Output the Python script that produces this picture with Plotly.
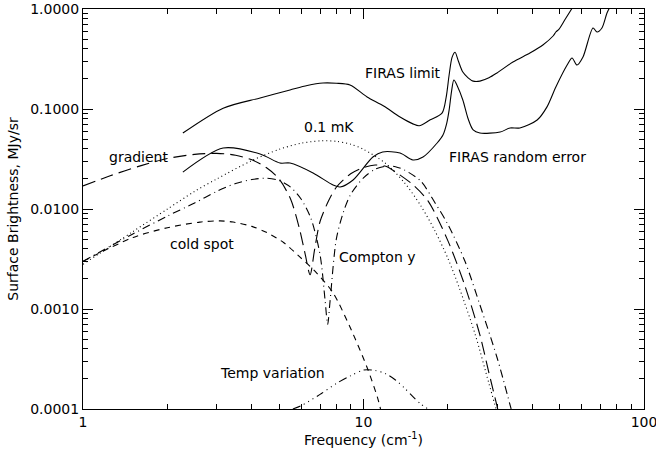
import plotly.graph_objects as go
import math

# ---------------- data (frequency in cm^-1, brightness in MJy/sr) ----------------
firas_limit_nu = [2.27, 3.16, 4.28, 5.47, 6.3, 7.17, 8.0, 8.95, 10.3, 11.8, 13.5, 15.0, 15.8, 17.3, 19.05, 19.7, 20.2, 20.7, 21.2, 21.8, 22.6, 23.6, 24.6, 26.0, 28.0, 29.9, 34.1, 39.2, 43.6, 47.5, 48.5, 49.8, 52.5, 55.8]
firas_limit_val = [0.0575, 0.102, 0.129, 0.155, 0.172, 0.182, 0.181, 0.174, 0.132, 0.107, 0.083, 0.071, 0.068, 0.078, 0.091, 0.13, 0.22, 0.33, 0.37, 0.30, 0.234, 0.205, 0.19, 0.19, 0.205, 0.229, 0.295, 0.363, 0.437, 0.54, 0.589, 0.63, 0.80, 1.05]

firas_err_nu = [2.27, 3.16, 4.28, 5.04, 5.47, 6.61, 7.79, 8.25, 9.18, 10.8, 11.7, 13.5, 15.0, 16.3, 18.3, 19.2, 19.8, 20.2, 20.6, 21.0, 21.6, 22.6, 23.6, 24.6, 26.0, 30.7, 33.3, 36.1, 41.6, 45.1, 48.5, 53.2, 55.4, 57.7, 60.6, 65.8, 68.0, 70.8, 73.8, 76.3]
firas_err_val = [0.0234, 0.0407, 0.0355, 0.0288, 0.0288, 0.0229, 0.0174, 0.0166, 0.0195, 0.0331, 0.0372, 0.0363, 0.0309, 0.0331, 0.0457, 0.055, 0.072, 0.098, 0.15, 0.195, 0.17, 0.123, 0.080, 0.0617, 0.0575, 0.0589, 0.0646, 0.0646, 0.0776, 0.105, 0.166, 0.275, 0.324, 0.275, 0.331, 0.646, 0.589, 0.646, 0.912, 1.1]

mk_nu = [1.0, 1.5, 2.0, 2.5, 3.0, 4.0, 5.0, 6.0, 7.0, 8.0, 9.0, 10.0, 12.0, 14.0, 16.0, 18.0, 20.0, 22.0, 25.0, 28.0, 29.7]
mk_val = [0.0028, 0.0059, 0.0100, 0.0150, 0.0200, 0.0305, 0.0395, 0.0455, 0.0480, 0.0475, 0.0444, 0.0395, 0.0285, 0.0183, 0.0108, 0.0060, 0.0032, 0.0016, 0.00056, 0.00018, 0.0001]

grad_nu = [1.0, 1.25, 1.6, 2.0, 2.5, 3.0, 3.5, 4.0, 4.5, 5.0, 5.5, 5.9, 6.2, 6.45, 6.7, 7.0, 7.5, 8.0, 9.0, 10.0, 11.0, 12.0, 13.0, 15.0, 17.0, 20.0, 23.0, 26.0, 28.0, 30.1]
grad_val = [0.0170, 0.0215, 0.0270, 0.0320, 0.0352, 0.0360, 0.0345, 0.0310, 0.0260, 0.0200, 0.0125, 0.0065, 0.0035, 0.0022, 0.0040, 0.0075, 0.0120, 0.0165, 0.0225, 0.0260, 0.0275, 0.0268, 0.0235, 0.0175, 0.0120, 0.0048, 0.0017, 0.00055, 0.00023, 0.0001]

compton_nu = [1.0, 1.5, 2.0, 2.5, 3.0, 3.5, 4.0, 4.5, 5.0, 5.5, 6.0, 6.5, 7.0, 7.3, 7.45, 7.6, 8.0, 8.5, 9.0, 10.0, 11.0, 12.0, 13.0, 14.0, 16.0, 18.0, 20.0, 23.0, 26.0, 30.0, 33.6]
compton_val = [0.0030, 0.0056, 0.0085, 0.0115, 0.0150, 0.0180, 0.0197, 0.0203, 0.0193, 0.0165, 0.0125, 0.0080, 0.0035, 0.0012, 0.0007, 0.0012, 0.0050, 0.0095, 0.0140, 0.0205, 0.0250, 0.0268, 0.0265, 0.0245, 0.0190, 0.0115, 0.0070, 0.0030, 0.0011, 0.00032, 0.0001]

cold_nu = [1.0, 1.51, 2.0, 2.61, 3.08, 3.43, 4.0, 4.53, 5.2, 5.94, 6.8, 7.79, 8.95, 10.3, 11.2, 11.5]
cold_val = [0.0030, 0.0052, 0.0065, 0.0074, 0.0076, 0.0074, 0.0067, 0.0058, 0.0046, 0.0033, 0.0023, 0.00145, 0.00066, 0.00026, 0.000132, 0.0001]

temp_nu = [5.6, 6.0, 7.0, 8.0, 9.0, 10.0, 11.0, 12.0, 13.0, 14.0, 15.0, 16.0, 17.0]
temp_val = [0.0001, 0.000108, 0.00014, 0.00018, 0.000215, 0.000245, 0.000243, 0.000225, 0.000195, 0.000162, 0.000133, 0.000112, 0.0001]

x_ticks = [1, 10, 100]
x_ticktext = ["1", "10", "100"]
y_ticks = [1.0, 0.1, 0.01, 0.001, 0.0001]
y_ticktext = ["1.0000", "0.1000", "0.0100", "0.0010", "0.0001"]
x_minor = [m * d for d in (1, 10) for m in range(2, 10)]
y_minor = [m * d for d in (0.0001, 0.001, 0.01, 0.1) for m in range(2, 10)]

labels = [
    ("FIRAS limit", 9.96, 0.229),
    ("0.1 mK", 6.04, 0.066),
    ("FIRAS random error", 19.85, 0.033),
    ("gradient", 1.22, 0.033),
    ("cold spot", 2.01, 0.0045),
    ("Compton y", 8.04, 0.0033),
    ("Temp variation", 3.03, 0.000229),
]

# ---------------- figure ----------------
FONT = "DejaVu Sans"
fig = go.Figure()

def add(nu, val, dash, shape="linear"):
    fig.add_trace(go.Scatter(x=nu, y=val, mode="lines",
                             line=dict(color="black", width=1.1, dash=dash, shape=shape, smoothing=0.8),
                             showlegend=False, hoverinfo="skip", cliponaxis=True))

add(firas_limit_nu, firas_limit_val, "solid", "spline")
add(firas_err_nu, firas_err_val, "solid", "spline")
add(mk_nu, mk_val, "1px,3px", "spline")
add(grad_nu, grad_val, "13px,6px", "spline")
add(compton_nu, compton_val, "8px,4px,1px,4px", "spline")
add(cold_nu, cold_val, "6px,5px", "spline")
add(temp_nu, temp_val, "8px,4px,1px,4px,1px,4px,1px,4px", "spline")

for text, xv, yv in labels:
    fig.add_annotation(x=math.log10(xv), y=math.log10(yv), xref="x", yref="y",
                       text=text, showarrow=False, xanchor="left", yanchor="middle",
                       font=dict(family=FONT, size=14, color="black"))

axis_common = dict(type="log", ticks="inside", ticklen=10, tickwidth=1, tickcolor="black",
                   showline=True, linecolor="black", linewidth=1, mirror="allticks",
                   showgrid=False, zeroline=False, automargin=False, ticklabeloverflow="allow",
                   tickfont=dict(family=FONT, size=14, color="black"))

fig.update_xaxes(range=[0, 2], tickvals=x_ticks, ticktext=x_ticktext,
                 minor=dict(tickvals=x_minor, ticks="inside", ticklen=5, tickcolor="black", showgrid=False),
                 title=dict(text="Frequency (cm<sup>-1</sup>)", font=dict(family=FONT, size=14, color="black"), standoff=4),
                 **axis_common)
fig.update_yaxes(range=[-4, 0], tickvals=y_ticks, ticktext=y_ticktext,
                 minor=dict(tickvals=y_minor, ticks="inside", ticklen=5, tickcolor="black", showgrid=False),
                 title=dict(text="Surface Brightness, MJy/sr", font=dict(family=FONT, size=14, color="black"), standoff=8),
                 **axis_common)

fig.update_layout(width=656, height=455, margin=dict(l=83, r=12, t=9, b=46),
                  paper_bgcolor="white", plot_bgcolor="white",
                  font=dict(family=FONT, size=14, color="black"))

fig.write_html("out.html")
